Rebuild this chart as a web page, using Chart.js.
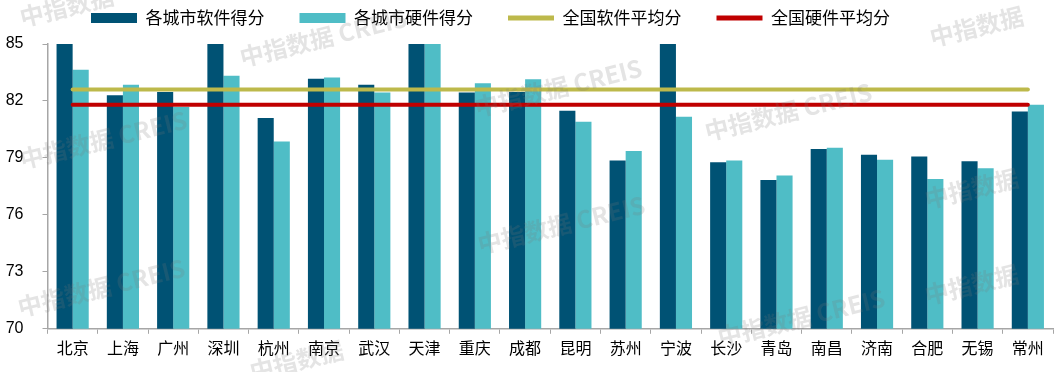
<!DOCTYPE html>
<html>
<head>
<meta charset="utf-8">
<script src="https://cdn.jsdelivr.net/npm/chart.js@4/dist/chart.umd.min.js"></script>
<style>
  html, body { margin: 0; padding: 0; background: #fff; }
  #wrap { width: 1062px; height: 372px; }
</style>
</head>
<body>
<div id="wrap"><canvas id="scoreChart" width="1062" height="372"></canvas></div>
<script>
// Data (values above 85 are cut off in the original)
const cities = ["北京","上海","广州","深圳","杭州","南京","武汉","天津","重庆","成都","昆明","苏州","宁波","长沙","青岛","南昌","济南","合肥","无锡","常州"];
const softScores = [86.0, 82.3, 82.47, 86.0, 81.1, 83.17, 82.86, 86.0, 82.45, 82.47, 81.49, 78.86, 86.0, 78.77, 77.84, 79.47, 79.17, 79.07, 78.82, 81.44];
const hardScores = [83.65, 82.86, 81.68, 83.33, 79.87, 83.23, 82.45, 86.0, 82.93, 83.15, 80.91, 79.37, 81.17, 78.86, 78.08, 79.53, 78.91, 77.89, 78.45, 81.8];
const softAvg = 82.6;
const hardAvg = 81.8;
const yTicks = [70, 73, 76, 79, 82, 85];

const cjk = "'Noto Sans CJK SC', 'Noto Sans', sans-serif";
const axisGray = "#A6A6A6";

// faint "中指数据 CREIS" marks like the source image
const watermark = {
  id: "watermark",
  afterDraw(chart) {
    const ctx = chart.ctx;
    const spots = [
      [20, 160, "中指数据 CREIS"], [240, 58, "中指数据 CREIS"], [475, 108, "中指数据 CREIS"],
      [705, 132, "中指数据 CREIS"], [478, 245, "中指数据 CREIS"], [18, 308, "中指数据 CREIS"],
      [718, 338, "中指数据 CREIS"], [250, 372, "中指数据"], [930, 38, "中指数据"],
      [925, 200, "中指数据"], [925, 296, "中指数据"], [20, 18, "中指数据"]
    ];
    ctx.save();
    ctx.fillStyle = "rgba(120,120,120,0.2)";
    ctx.font = "bold 24px " + cjk;
    spots.forEach(([x, y, t]) => {
      ctx.save();
      ctx.translate(x, y);
      ctx.rotate(-0.24);
      ctx.fillText(t, 0, 0);
      ctx.restore();
    });
    ctx.restore();
  }
};

// legend placement tweak
const legendShift = {
  id: "legendShift",
  beforeInit(chart) {
    const fit = chart.legend.fit;
    chart.legend.fit = function () {
      fit.call(this);
      this.height = 44;
    };
  },
  afterLayout(chart) {
    const l = chart.legend;
    l.left = 56;
    l.top = -25.5;
  }
};

new Chart(document.getElementById("scoreChart"), {
  type: "bar",
  data: {
    labels: cities,
    datasets: [
      {
        label: "各城市软件得分",
        data: softScores,
        backgroundColor: "#005274",
        borderWidth: 0,
        clip: 0,
        order: 2
      },
      {
        label: "各城市硬件得分",
        data: hardScores,
        backgroundColor: "#4FBDC6",
        borderWidth: 0,
        clip: 0,
        order: 2
      },
      {
        type: "line",
        label: "全国软件平均分",
        data: cities.map(() => softAvg),
        borderColor: "#BDB94B",
        backgroundColor: "#BDB94B",
        borderWidth: 4,
        borderCapStyle: "round",
        pointRadius: 0,
        order: 1
      },
      {
        type: "line",
        label: "全国硬件平均分",
        data: cities.map(() => hardAvg),
        borderColor: "#C00000",
        backgroundColor: "#C00000",
        borderWidth: 4,
        borderCapStyle: "round",
        pointRadius: 0,
        order: 1
      }
    ]
  },
  options: {
    responsive: false,
    animation: false,
    layout: { padding: { left: 0, right: 9, top: 0, bottom: 9 } },
    datasets: {
      bar: { categoryPercentage: 0.64, barPercentage: 1.0 }
    },
    plugins: {
      tooltip: { enabled: false },
      legend: {
        position: "top",
        align: "start",
        labels: {
          usePointStyle: true,
          pointStyleWidth: 46,
          boxHeight: 10,
          padding: 35,
          color: "#000",
          font: { family: cjk, size: 17 },
          generateLabels(chart) {
            const items = Chart.defaults.plugins.legend.labels.generateLabels(chart);
            items.forEach(it => {
              const ds = chart.data.datasets[it.datasetIndex];
              if (ds.type === "line") {
                it.pointStyle = "line";
                it.lineWidth = 5;
                it.strokeStyle = ds.borderColor;
              } else {
                it.pointStyle = "rect";
              }
            });
            return items.sort((a, b) => a.datasetIndex - b.datasetIndex);
          }
        }
      }
    },
    scales: {
      x: {
        grid: { offset: true, drawOnChartArea: false, tickLength: 5, color: axisGray },
        border: { color: axisGray, width: 1.5 },
        ticks: { color: "#000", padding: 5, font: { family: cjk, size: 16 }, maxRotation: 0 }
      },
      y: {
        min: 70,
        max: 85,
        afterBuildTicks(scale) {
          scale.ticks = yTicks.map(v => ({ value: v }));
        },
        afterFit(scale) {
          scale.width = 47.5;
        },
        grid: { drawOnChartArea: false, tickLength: 5, color: axisGray },
        border: { color: axisGray, width: 1.5 },
        ticks: { color: "#000", padding: 19, font: { family: "'Liberation Sans', Arial, sans-serif", size: 16 } }
      }
    }
  },
  plugins: [legendShift, watermark]
});
</script>
</body>
</html>
